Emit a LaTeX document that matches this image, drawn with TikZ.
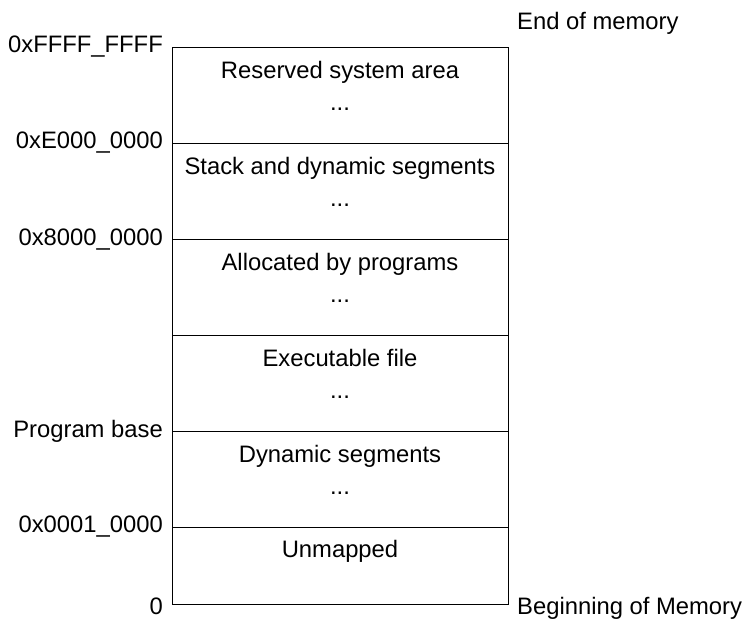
\documentclass[tikz,border=0pt]{standalone}
\usepackage{fontspec}
\setmainfont{Liberation Sans}
\begin{document}
\begin{tikzpicture}[x=1pt,y=-1pt,
  seg/.style={draw, line width=1pt, minimum width=336pt, inner sep=0pt, outer sep=0pt, anchor=north west},
  lbl/.style={font=\fontsize{23.8}{28}\selectfont, inner sep=0pt},
  addr/.style={lbl, anchor=base east},
  title/.style={lbl, anchor=base},
  side/.style={lbl, anchor=base west}]
\useasboundingbox (0,0) rectangle (743,621);

% memory map segments, top to bottom
\node[seg, minimum height=96pt] (reserved) at (172,47) {};
\node[seg, minimum height=96pt] (stack) at (172,143) {};
\node[seg, minimum height=96pt] (alloc) at (172,239) {};
\node[seg, minimum height=96pt] (exec) at (172,335) {};
\node[seg, minimum height=96pt] (dyn) at (172,431) {};
\node[seg, minimum height=77pt] (unmapped) at (172,527) {};

% segment titles
\node[title] (reservedT) at ([yshift=-31pt]reserved.north) {Reserved system area};
\node[title] (reservedD) at ([yshift=-63pt]reserved.north) {...};
\node[title] (stackT) at ([yshift=-31pt]stack.north) {Stack and dynamic segments};
\node[title] (stackD) at ([yshift=-63pt]stack.north) {...};
\node[title] (allocT) at ([yshift=-31pt]alloc.north) {Allocated by programs};
\node[title] (allocD) at ([yshift=-63pt]alloc.north) {...};
\node[title] (execT) at ([yshift=-31pt]exec.north) {Executable file};
\node[title] (execD) at ([yshift=-63pt]exec.north) {...};
\node[title] (dynT) at ([yshift=-31pt]dyn.north) {Dynamic segments};
\node[title] (dynD) at ([yshift=-63pt]dyn.north) {...};
\node[title] (unmappedT) at ([yshift=-30pt]unmapped.north) {Unmapped};

% addresses on the left
\node[addr] (aTop) at ([xshift=-9pt,yshift=-5pt]reserved.north west) {0xFFFF\_FFFF};
\node[addr] (aE) at ([xshift=-9pt,yshift=-5pt]stack.north west) {0xE000\_0000};
\node[addr] (a8) at ([xshift=-9pt,yshift=-6pt]alloc.north west) {0x8000\_0000};
\node[addr] (aBase) at ([xshift=-9pt,yshift=-6pt]dyn.north west) {Program base};
\node[addr] (a1) at ([xshift=-9pt,yshift=-5pt]unmapped.north west) {0x0001\_0000};
\node[addr] (aZero) at ([xshift=-9pt,yshift=-10pt]unmapped.south west) {0};

% notes on the right
\node[side] (endMem) at ([xshift=9pt,yshift=18pt]reserved.north east) {End of memory};
\node[side] (beginMem) at ([xshift=9pt,yshift=-10pt]unmapped.south east) {Beginning of Memory};
\end{tikzpicture}
\end{document}
